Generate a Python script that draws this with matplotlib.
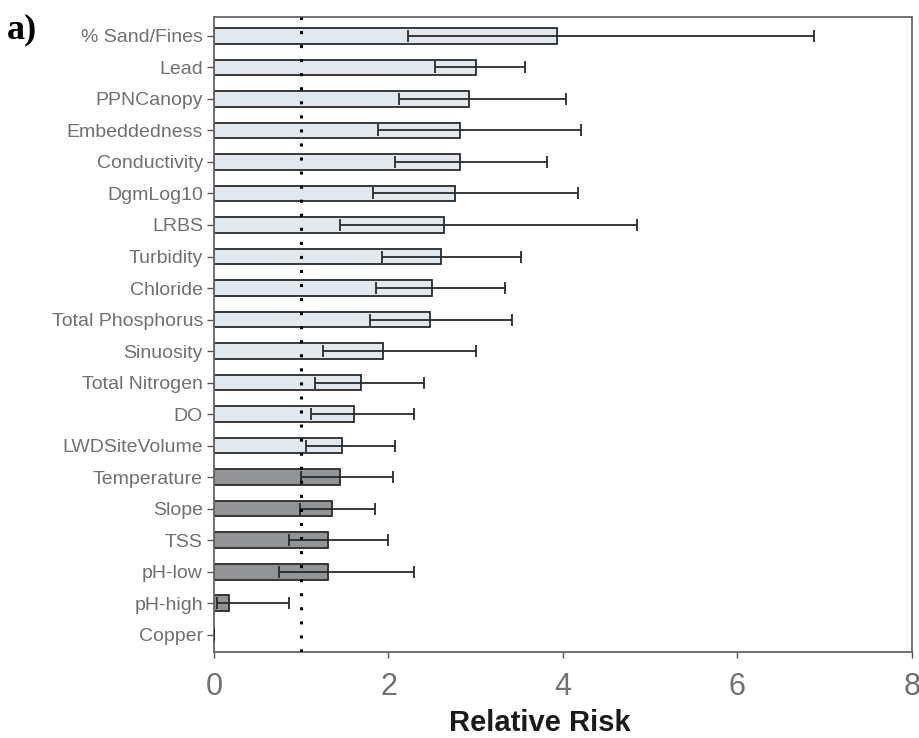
import numpy as np
import matplotlib
matplotlib.use('Agg')
import matplotlib.pyplot as plt

variables = ['% Sand/Fines', 'Lead', 'PPNCanopy', 'Embeddedness', 'Conductivity',
             'DgmLog10', 'LRBS', 'Turbidity', 'Chloride', 'Total Phosphorus',
             'Sinuosity', 'Total Nitrogen', 'DO', 'LWDSiteVolume', 'Temperature',
             'Slope', 'TSS', 'pH-low', 'pH-high', 'Copper']
relative_risk = [3.93, 3.00, 2.92, 2.82, 2.82, 2.76, 2.64, 2.60, 2.50, 2.47,
                 1.94, 1.68, 1.60, 1.47, 1.44, 1.35, 1.31, 1.31, 0.17, 0.0]
ci_low = [2.22, 2.53, 2.12, 1.88, 2.07, 1.82, 1.44, 1.92, 1.86, 1.79,
          1.25, 1.16, 1.11, 1.06, 1.00, 0.99, 0.86, 0.74, 0.04, 0.0]
ci_high = [6.88, 3.57, 4.03, 4.21, 3.82, 4.17, 4.85, 3.52, 3.33, 3.41,
           3.00, 2.41, 2.29, 2.07, 2.05, 1.84, 2.00, 2.29, 0.86, 0.0]
significant = [True] * 14 + [False] * 6

light = '#e1e8ee'
dark = '#919598'
grey_text = '#707070'

fig = plt.figure(figsize=(9.2, 7.38), dpi=100)
ax = fig.add_axes([214/920, 1 - 652/738, (912 - 214)/920, (652 - 17)/738])

y = np.arange(len(variables))
rr = np.array(relative_risk)
lo = np.array(ci_low)
hi = np.array(ci_high)
colors = [light if s else dark for s in significant]

ax.barh(y, rr, height=0.5, color=colors, edgecolor='#2a2a2a', linewidth=1.3, zorder=2)
ax.errorbar(rr, y, xerr=[rr - lo, hi - rr], fmt='none', ecolor='#2a2a2a',
            elinewidth=1.3, capsize=4, capthick=1.3, zorder=3)
ax.axvline(1, color='black', linewidth=2.2, linestyle=(0, (1, 3.6)),
           dash_capstyle='butt', zorder=4)

ax.set_xlim(0, 8)
ax.set_ylim(19.55, -0.6)
ax.set_xticks([0, 2, 4, 6, 8])
ax.set_yticks(y)
ax.set_yticklabels(variables, fontsize=14, color=grey_text, family='Liberation Sans')
for lab in ax.get_xticklabels():
    lab.set_fontsize(22)
    lab.set_color(grey_text)
    lab.set_family('Liberation Sans')
ax.tick_params(axis='y', length=5, width=1, color='#555555', pad=3)
ax.tick_params(axis='x', length=4.5, width=1, color='#555555', pad=10)
for sp in ax.spines.values():
    sp.set_color('#666666')
    sp.set_linewidth(1.3)

ax.set_xlabel('Relative Risk', fontsize=21, fontweight='bold', family='Liberation Sans',
              color='#1a1a1a')
ax.xaxis.set_label_coords((540 - 214) / 698, (652 - 731) / 635)
ax.xaxis.label.set_verticalalignment('baseline')

fig.text(0.008, 0.982, 'a)', fontsize=26, fontweight='bold', family='Liberation Serif',
         va='top', ha='left')

fig.savefig('out.png', dpi=100)
